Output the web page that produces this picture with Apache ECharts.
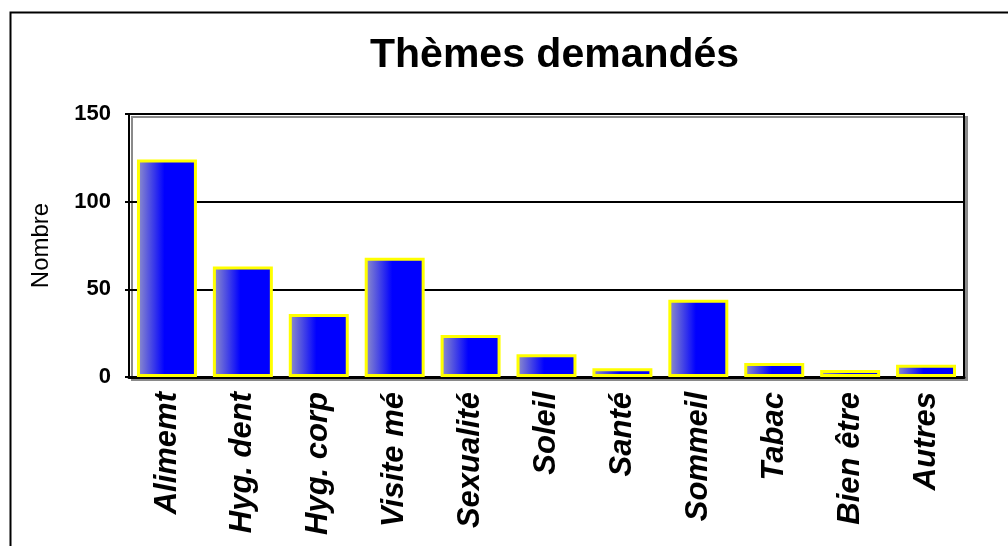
<!DOCTYPE html>
<html>
<head>
<meta charset="utf-8">
<script src="https://cdn.jsdelivr.net/npm/echarts@6/dist/echarts.min.js"></script>
<style>
  html, body { margin: 0; padding: 0; background: #fff; }
  #chart { width: 1008px; height: 546px; }
</style>
</head>
<body>
<div id="chart"></div>
<script>
// Themes requested and how many times each was asked for
const categories = ['Alimemt', 'Hyg. dent', 'Hyg. corp', 'Visite mé', 'Sexualité', 'Soleil', 'Santé', 'Sommeil', 'Tabac', 'Bien être', 'Autres'];
const counts = [124, 63, 36, 68, 24, 13, 5, 44, 8, 4, 7];
const yTicks = [0, 50, 100, 150];

const chart = echarts.init(document.getElementById('chart'), null, { renderer: 'canvas' });

// Bar fill: greyish blue on the left fading into pure blue
const barFill = new echarts.graphic.LinearGradient(0, 0, 1, 0, [
  { offset: 0, color: '#9494c8' },
  { offset: 0.46, color: '#0000ff' },
  { offset: 1, color: '#0000ff' }
]);

chart.setOption({
  animation: false,
  backgroundColor: '#ffffff',
  textStyle: { fontFamily: 'Liberation Sans, Arial, sans-serif' },
  title: {
    text: 'Thèmes demandés',
    left: 365,
    top: 30,
    textStyle: {
      fontFamily: 'Liberation Sans, Arial, sans-serif',
      fontSize: 41,
      fontWeight: 'bold',
      color: '#000'
    }
  },
  graphic: [{
    type: 'rect',
    left: 8,
    top: 10,
    shape: { width: 1100, height: 600 },
    style: { fill: 'none', stroke: '#000', lineWidth: 2 },
    silent: true,
    z: 0
  }],
  grid: {
    left: 129,
    right: 44,
    top: 114,
    bottom: 169,
    show: true,
    backgroundColor: '#ffffff',
    borderColor: '#000',
    borderWidth: 2,
    shadowColor: '#8a8a8a',
    shadowBlur: 0,
    shadowOffsetX: 3,
    shadowOffsetY: 3
  },
  xAxis: {
    type: 'category',
    data: categories,
    axisLine: { show: true, lineStyle: { color: '#000', width: 3 } },
    axisTick: { show: false },
    axisLabel: {
      rotate: 90,
      margin: 15,
      fontSize: 31,
      fontWeight: 'bold',
      fontStyle: 'italic',
      color: '#000',
      fontFamily: 'Liberation Sans, Arial, sans-serif',
      interval: 0
    }
  },
  yAxis: {
    type: 'value',
    min: yTicks[0],
    max: yTicks[yTicks.length - 1],
    interval: yTicks[1] - yTicks[0],
    name: 'Nombre',
    nameLocation: 'middle',
    nameGap: 76,
    nameRotate: 90,
    nameTextStyle: {
      fontSize: 24,
      color: '#000',
      fontFamily: 'Liberation Sans, Arial, sans-serif'
    },
    axisLine: { show: true, lineStyle: { color: '#000', width: 2 } },
    axisTick: { show: true, length: 4, lineStyle: { color: '#000', width: 2 } },
    axisLabel: {
      margin: 18,
      fontSize: 22,
      fontWeight: 'bold',
      color: '#000',
      fontFamily: 'Liberation Sans, Arial, sans-serif'
    },
    splitLine: { show: true, lineStyle: { color: '#000', width: 2 } }
  },
  series: [{
    type: 'bar',
    data: counts,
    barCategoryGap: '21%',
    itemStyle: {
      color: barFill,
      borderColor: '#ffff00',
      borderWidth: 3
    }
  }]
});
</script>
</body>
</html>
